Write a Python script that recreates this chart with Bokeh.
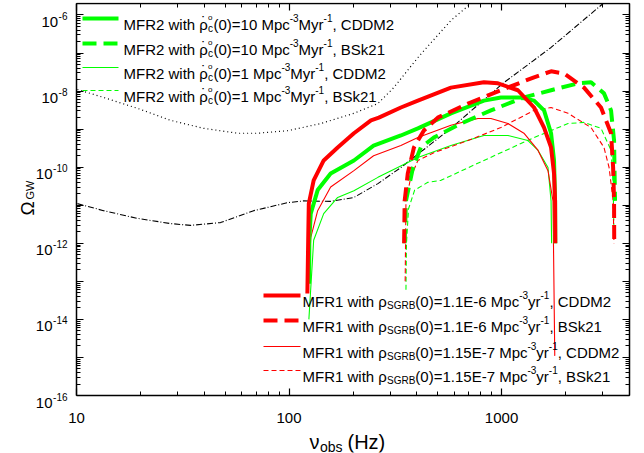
import math
from bokeh.plotting import figure
from bokeh.models import FixedTicker, LogAxis, Label, Arrow, CustomJSTickFormatter, Range1d
from bokeh.embed import file_html
from bokeh.resources import INLINE

# ---------------- data ----------------
# MFR1, rho_SGRB(0)=1.1E-6, CDDM2
f_r1 = [122, 123.1, 123.9, 130.6, 145.6, 169.4, 202, 243, 264.6, 336, 404, 578, 826, 962, 1194, 1422, 1585, 1710, 1766, 1786, 1790]
o_r1 = [4.8e-14, 1.2e-12, 1.1e-11, 4.5e-11, 1.5e-10, 3.3e-10, 7.8e-10, 1.7e-9, 2.0e-9, 3.7e-9, 5.6e-9, 1.23e-8, 1.7e-8, 1.6e-8, 1.05e-8, 3.7e-9, 1.1e-9, 3.3e-10, 6.8e-11, 1.3e-11, 1e-12]
# MFR1, rho_SGRB(0)=1.1E-6, BSk21
f_r1d = [348, 350, 362, 387, 431, 501, 695, 993, 1422, 1710, 1968, 2444, 2938, 3275, 3350, 3384, 3390]
o_r1d = [1e-12, 1.3e-11, 6.8e-11, 3.3e-10, 9.2e-10, 2e-9, 4.7e-9, 1.05e-8, 2.3e-8, 3.3e-8, 2.9e-8, 1.23e-8, 3.7e-9, 7.8e-10, 9.8e-11, 1.3e-11, 1e-12]
# MFR1, rho_SGRB(0)=1.15E-7, CDDM2
f_r2 = [124, 126.5, 136.4, 157, 202, 250, 336, 404, 578, 774, 891, 1072, 1274, 1483, 1654, 1746, 1780]
o_r2 = [1e-13, 1.4e-12, 7.2e-12, 3e-11, 8.1e-11, 2e-10, 3.7e-10, 6e-10, 1.26e-9, 1.9e-9, 1.9e-9, 1.4e-9, 7.8e-10, 2.8e-10, 8.1e-11, 1.3e-11, 1.1e-15]
# MFR1, rho_SGRB(0)=1.15E-7, BSk21
f_r2d = [352, 355, 374, 404, 480, 695, 993, 1422, 1710, 2056, 2637, 3034, 3206, 3350, 3380]
o_r2d = [1e-13, 1.3e-11, 5.4e-11, 1.5e-10, 2.4e-10, 5e-10, 1.1e-9, 3.1e-9, 3.7e-9, 2.6e-9, 1.1e-9, 3.3e-10, 9.8e-11, 1.3e-11, 1e-12]
# MFR2, rho_c(0)=10, CDDM2
f_g1 = [124.3, 124.6, 126.5, 136.4, 157, 202, 250, 336, 404, 578, 826, 993, 1233, 1422, 1585, 1710, 1766, 1786, 1790]
o_g1 = [8.7e-14, 1.2e-12, 6e-12, 2.5e-11, 6.8e-11, 1.5e-10, 3.7e-10, 6.8e-10, 1.05e-9, 2.6e-9, 5.6e-9, 6.8e-9, 6.8e-9, 5.6e-9, 3.1e-9, 7.8e-10, 1.5e-10, 1.3e-11, 1e-12]
# MFR2, rho_c(0)=10, BSk21
f_g1d = [350, 355, 383, 417, 480, 644, 891, 1274, 1710, 2291, 2637, 3034, 3275, 3384, 3420]
o_g1d = [1e-12, 1.3e-11, 9.8e-11, 3.3e-10, 6e-10, 1.4e-9, 3.1e-9, 6.8e-9, 1.05e-8, 1.6e-8, 1.7e-8, 8.7e-9, 3.1e-9, 5e-10, 1.3e-11]
# MFR2, rho_c(0)=1, CDDM2
f_g2 = [124, 130.6, 145.6, 169.4, 202, 262, 404, 578, 826, 1072, 1331, 1483, 1654, 1710, 1720]
o_g2 = [1e-14, 1.2e-12, 6e-12, 1.6e-11, 2.4e-11, 5.4e-11, 1.8e-10, 3.7e-10, 6.8e-10, 6.8e-10, 5e-10, 2.8e-10, 9.8e-11, 1.3e-11, 1e-12]
# MFR2, rho_c(0)=1, BSk21
f_g2d = [355, 357, 365, 390, 450, 519, 826, 1422, 2056, 2444, 2938, 3275, 3350, 3384]
o_g2d = [6e-14, 1e-12, 8e-12, 2.5e-11, 4e-11, 4.5e-11, 1.5e-10, 6e-10, 1.4e-9, 1.5e-9, 1.05e-9, 2.8e-10, 3.7e-11, 1.3e-12]
# detector curves
f_dot = [10.1, 13.4, 19.4, 27.7, 39.6, 57.3, 71.3, 98.7, 141, 202, 262, 311, 404, 578, 718]
o_dot = [1.1e-8, 6.8e-9, 3.5e-9, 1.7e-9, 1.05e-9, 7.8e-10, 7.8e-10, 9.1e-10, 1.4e-9, 2.6e-9, 4.7e-9, 1.23e-8, 7.6e-8, 7.2e-7, 2e-6]
f_dd = [10.1, 13.4, 19.4, 27.7, 34.4, 47.6, 68.2, 98.7, 117, 157, 202, 262, 336, 578, 1016, 1710, 3006]
o_dd = [1.1e-11, 7.2e-12, 4.5e-12, 3.3e-12, 2.95e-12, 3.5e-12, 7.2e-12, 1.17e-11, 1.3e-11, 1.26e-11, 1.6e-11, 3.7e-11, 9.8e-11, 1.05e-9, 1.6e-8, 1.4e-7, 2e-6]

x_major = [10, 100, 1000]
x_labels = ["10", "100", "1000"]
y_label_exps = [-6, -8, -10, -12, -14, -16]
X_MIN, X_MAX = 10, 4000
Y_MIN, Y_MAX = 1e-16, 2e-6

RED = "#FF0000"
GREEN = "#00FF00"
FONT = "Liberation Sans"

# ---------------- layout: the frame is (almost) the whole canvas, the chart box sits inside ----------------
W, H = 644, 453
BL, BR, BT, BB = 4, 4, 2, 1            # canvas borders around the frame
BOX_L, BOX_R, BOX_T, BOX_B = 76, 629, 3, 395   # chart box in page pixels
FL, FT = BL, BT
FR, FB = W - BR, H - BB
ppx = (BOX_R - BOX_L) / (math.log10(X_MAX) - math.log10(X_MIN))
ppy = (BOX_B - BOX_T) / (math.log10(Y_MAX) - math.log10(Y_MIN))
x_lo = 10 ** (math.log10(X_MIN) - (BOX_L - FL) / ppx)
x_hi = 10 ** (math.log10(X_MAX) + (FR - BOX_R) / ppx)
y_lo = 10 ** (math.log10(Y_MIN) - (FB - BOX_B) / ppy)
y_hi = 10 ** (math.log10(Y_MAX) + (BOX_T - FT) / ppy)

p = figure(width=W, height=H, x_axis_type="log", y_axis_type="log",
           x_range=Range1d(x_lo, x_hi), y_range=Range1d(y_lo, y_hi),
           output_backend="svg", toolbar_location=None,
           min_border_left=BL, min_border_right=BR, min_border_top=BT, min_border_bottom=BB)
p.grid.visible = False
p.outline_line_color = None
p.background_fill_color = "white"
p.border_fill_color = "white"

xminor = [k * 10 ** e for e in (1, 2, 3) for k in range(2, 10) if k * 10 ** e <= X_MAX]
yminor = [k * 10.0 ** e for e in range(-16, -5) for k in range(2, 10)]
yticks = [10.0 ** e for e in range(-16, -5)]

def style_axis(ax, loc, bounds):
    ax.fixed_location = loc
    ax.bounds = bounds
    ax.axis_line_color = "black"
    ax.axis_line_width = 1.5
    ax.major_tick_in = 7
    ax.major_tick_out = 0
    ax.minor_tick_in = 4
    ax.minor_tick_out = 0
    ax.major_tick_line_color = "black"
    ax.minor_tick_line_color = "black"
    ax.major_tick_line_width = 1.2
    ax.minor_tick_line_width = 1
    ax.formatter = CustomJSTickFormatter(code="return ' '")
    ax.major_label_text_font_size = "1px"
    ax.major_label_standoff = 0

p.xaxis.ticker = FixedTicker(ticks=x_major, minor_ticks=xminor)
p.yaxis.ticker = FixedTicker(ticks=yticks, minor_ticks=yminor)
style_axis(p.xaxis[0], Y_MIN, (X_MIN, X_MAX))
style_axis(p.yaxis[0], X_MIN, (Y_MIN, Y_MAX))
top = LogAxis(ticker=FixedTicker(ticks=x_major, minor_ticks=xminor))
right = LogAxis(ticker=FixedTicker(ticks=yticks, minor_ticks=yminor))
style_axis(top, Y_MAX, (X_MIN, X_MAX))
style_axis(right, X_MAX, (Y_MIN, Y_MAX))
p.add_layout(top, "above")
p.add_layout(right, "right")

# ---------------- curves ----------------
p.line(f_dot, o_dot, line_color="black", line_width=1.2, line_dash="1 3")
p.line(f_dd, o_dd, line_color="black", line_width=1.1, line_dash="6 2 1 2")

p.line(f_g2, o_g2, line_color=GREEN, line_width=1.1)
p.line(f_g2d, o_g2d, line_color=GREEN, line_width=1.1, line_dash="5 3")
p.line(f_r2, o_r2, line_color=RED, line_width=1.1)
p.line(f_r2d, o_r2d, line_color=RED, line_width=1.1, line_dash="5 3")
p.line(f_g1, o_g1, line_color=GREEN, line_width=4)
p.line(f_g1d, o_g1d, line_color=GREEN, line_width=4, line_dash="14 7")
p.line(f_r1, o_r1, line_color=RED, line_width=4)
p.line(f_r1d, o_r1d, line_color=RED, line_width=4, line_dash="14 7")

# ---------------- text helpers (page coords -> frame screen coords) ----------------
AW = {' ': 278, '(': 333, ')': 333, '=': 584, '.': 278, ',': 278, '-': 333,
      'A': 667, 'B': 667, 'C': 722, 'D': 722, 'E': 667, 'F': 611, 'G': 778, 'H': 722,
      'K': 667, 'M': 833, 'R': 722, 'S': 667, 'W': 944,
      'a': 556, 'b': 556, 'c': 500, 'h': 556, 'i': 222, 'k': 500, 'o': 556, 'p': 556,
      'r': 333, 's': 500, 't': 278, 'w': 722, 'y': 500, 'z': 500,
      'ρ': 578, 'ν': 520, 'Ω': 768}
for d in "0123456789":
    AW[d] = 556

def tw(s, size):
    return sum(AW.get(ch, 556) for ch in s) * size / 1000.0

def put(text, x, y, size, align="left", angle=0.0):
    p.add_layout(Label(x=x - FL, y=FB - y, x_units="screen", y_units="screen", text=text,
                       text_font=FONT, text_font_size=f"{size}px", text_color="black",
                       text_baseline="alphabetic", text_align=align, angle=angle))

BASE, SMALL = 15, 10

def rich(parts, x, yb):
    for t, kind in parts:
        if kind == "n":
            put(t, x, yb, BASE)
            x += tw(t, BASE)
        elif kind == "sup":
            put(t, x, yb - 6, SMALL)
            x += tw(t, SMALL)
        elif kind == "sub":
            put(t, x, yb + 4, SMALL)
            x += tw(t, SMALL)
        elif kind == "rhodot":
            put("ρ", x, yb, BASE)
            w = tw("ρ", BASE)
            put("˙", x + w / 2, yb - 3, BASE, align="center")
            x += w
            put("o", x, yb - 7, 8)
            put("c", x, yb + 4, SMALL)
            x += tw("o", 8) + 1

def sample(x0, x1, y, color, width, dash="solid"):
    p.add_layout(Arrow(end=None, x_start=x0 - FL, y_start=FB - y, x_end=x1 - FL, y_end=FB - y,
                       start_units="screen", end_units="screen",
                       line_color=color, line_width=width, line_dash=dash))

# top-left legend (MFR2)
top_rows = [
    (18, GREEN, 4, "solid", "10", "CDDM2"),
    (43, GREEN, 4, "14 7", "10", "BSk21"),
    (67, GREEN, 1.1, "solid", "1", "CDDM2"),
    (90, GREEN, 1.1, "5 3", "1", "BSk21"),
]
for yc, col, lw, dash, rate, eos in top_rows:
    sample(82, 118, yc, col, lw, dash)
    rich([("MFR2 with ", "n"), ("", "rhodot"), ("(0)=" + rate + " Mpc", "n"), ("-3", "sup"),
          ("Myr", "n"), ("-1", "sup"), (", " + eos, "n")], 123, yc + 5.5)

# bottom-right legend (MFR1)
bot_rows = [
    (295, RED, 4, "solid", "1.1E-6", "CDDM2"),
    (320, RED, 4, "14 7", "1.1E-6", "BSk21"),
    (346, RED, 1.1, "solid", "1.15E-7", "CDDM2"),
    (370, RED, 1.1, "5 3", "1.15E-7", "BSk21"),
]
for yc, col, lw, dash, rate, eos in bot_rows:
    sample(263, 300, yc, col, lw, dash)
    rich([("MFR1 with ", "n"), ("ρ", "n"), ("SGRB", "sub"), ("(0)=" + rate + " Mpc", "n"), ("-3", "sup"),
          ("yr", "n"), ("-1", "sup"), (", " + eos, "n")], 302, yc + 5.5)

# x tick labels (x in data units, so they sit on the ticks)
for v, s in zip(x_major, x_labels):
    p.add_layout(Label(x=v, y=FB - 417, x_units="data", y_units="screen", text=s,
                       text_font=FONT, text_font_size="15px", text_color="black",
                       text_baseline="alphabetic", text_align="center"))

# y tick labels 10^-n
for e in y_label_exps:
    yt_page = BOX_T + (math.log10(Y_MAX) - e) * ppy
    sup = str(e)
    ws = tw(sup, SMALL)
    put(sup, 67 - ws, yt_page + 1, SMALL)
    put("10", 67 - ws - 0.5, yt_page + 7, BASE, align="right")

# axis titles
TX = 309
put("ν", TX, 441, 20)
put("obs", TX + tw("ν", 20), 446, 14)
put("(Hz)", TX + tw("ν", 20) + tw("obs", 14) + 5, 441, 20)
put("Ω", 27, 215, 19, angle=math.pi / 2)
put("GW", 29, 199, 11, angle=math.pi / 2)

open("out.html", "w").write(file_html(p, INLINE))
